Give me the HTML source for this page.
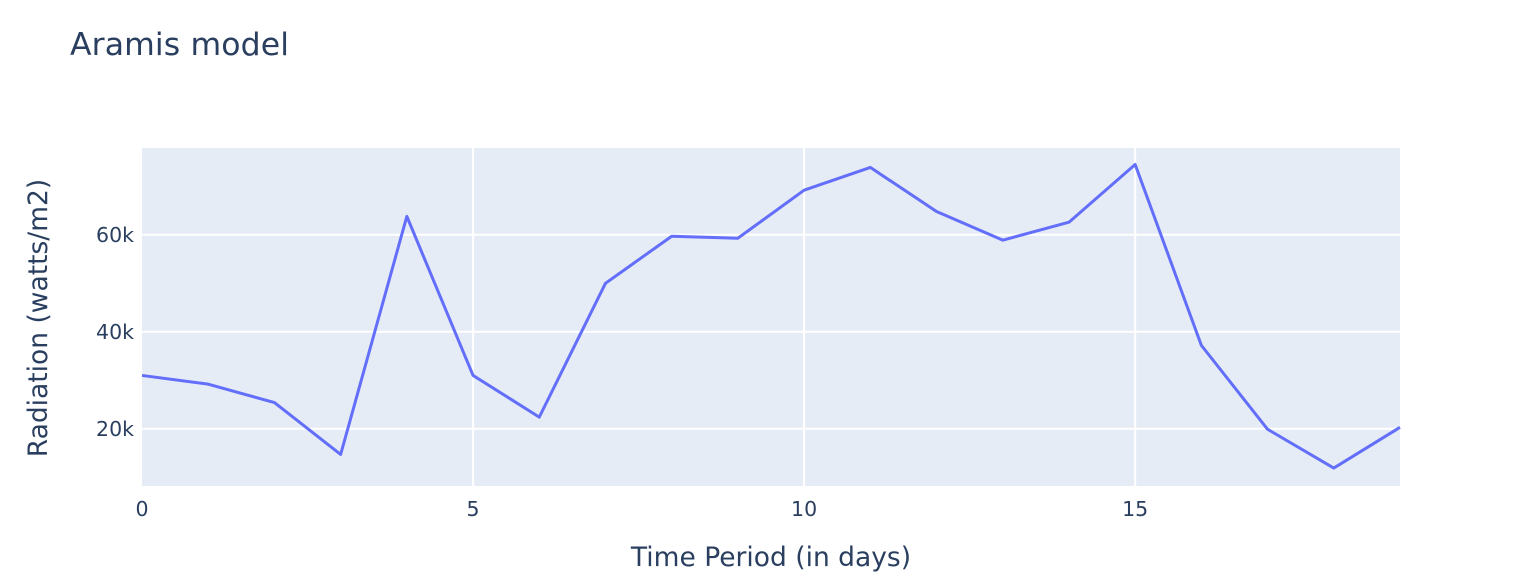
<!DOCTYPE html>
<html><head><meta charset="utf-8"><style>
body{margin:0;background:#fff;font-family:"DejaVu Sans",sans-serif;}
</style></head><body>
<svg id="chart" width="1531" height="580" xmlns="http://www.w3.org/2000/svg" font-family="DejaVu Sans, sans-serif">
<text x="70" y="55" font-size="31.5" fill="#2a3f5f" textLength="219">Aramis model</text>
<rect x="142" y="148" width="1258" height="338" fill="#e5ecf6"/>
<g id="grid"></g><g id="ticks"></g>
<text x="771" y="566" font-size="26.5" fill="#2a3f5f" text-anchor="middle">Time Period (in days)</text>
<text transform="translate(47,318) rotate(-90)" font-size="26.5" fill="#2a3f5f" text-anchor="middle">Radiation (watts/m2)</text>
</svg>
<script>
const days=[0,1,2,3,4,5,6,7,8,9,10,11,12,13,14,15,16,17,18,19];
const radiation=[31000,29200,25400,14700,63800,31000,22400,50000,59700,59300,69200,73900,64800,58900,62600,74500,37200,19900,11900,20300];
const xTicks=[0,5,10,15];
const yTicks=[20000,40000,60000];
const yTickLabels=["20k","40k","60k"];
const ns="http://www.w3.org/2000/svg";
const L=142,R=1400,T=148,B=486,xMin=0,xMax=19,yMin=8200,yMax=77900;
const xs=v=>L+(v-xMin)/(xMax-xMin)*(R-L);
const ys=v=>B-(v-yMin)/(yMax-yMin)*(B-T);
const svg=document.getElementById('chart');
const grid=document.getElementById('grid'),ticks=document.getElementById('ticks');
function mk(tag,attrs){const e=document.createElementNS(ns,tag);for(const k in attrs)e.setAttribute(k,attrs[k]);return e;}
xTicks.forEach(t=>{
 if(t>xMin){const g=mk('line',{x1:xs(t),x2:xs(t),y1:T,y2:B,stroke:'#fff','stroke-width':2});
 
 grid.appendChild(g);}
 const tx=mk('text',{x:xs(t),y:516,'font-size':20.5,fill:'#2a3f5f','text-anchor':'middle'});
 
 
 tx.textContent=t;ticks.appendChild(tx);
});
yTicks.forEach((t,i)=>{
 const g=mk('line',{x1:L,x2:R,y1:ys(t),y2:ys(t),stroke:'#fff','stroke-width':2});
 
 grid.appendChild(g);
 const tx=mk('text',{x:134,y:ys(t)+7,'font-size':20.5,fill:'#2a3f5f','text-anchor':'end'});
 
 
 tx.textContent=yTickLabels[i];ticks.appendChild(tx);
});
const pts=days.map((d,i)=>xs(d)+','+ys(radiation[i])).join(' ');
const line=mk('polyline',{points:pts,fill:'none',stroke:'#636efa','stroke-width':3,'stroke-linejoin':'round'});


svg.appendChild(line);
</script>
</body></html>
